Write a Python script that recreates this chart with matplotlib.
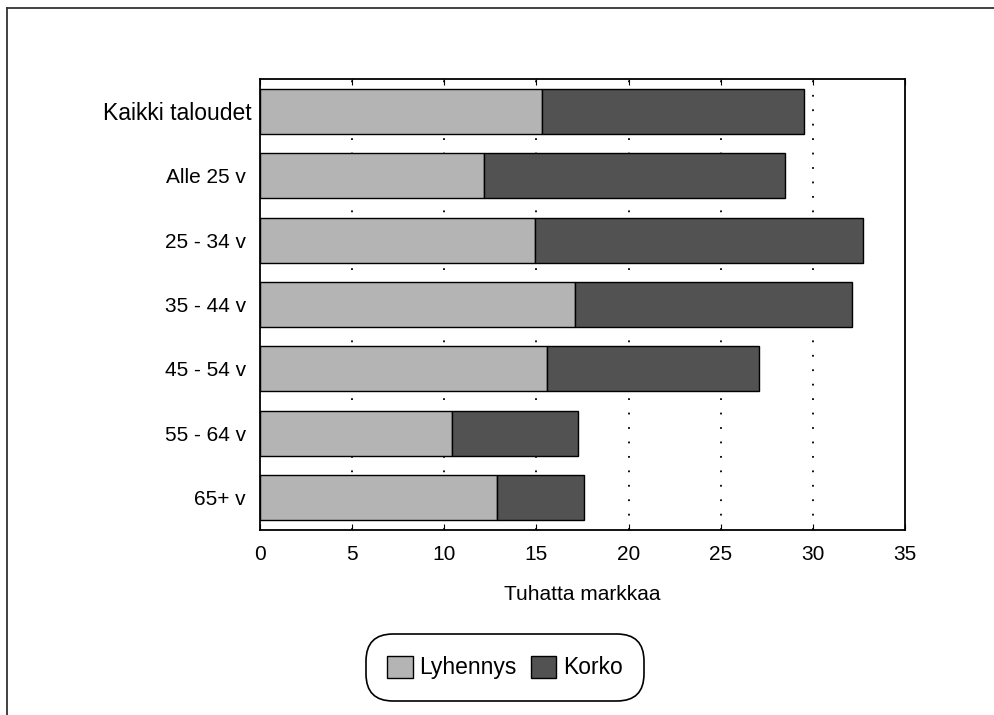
import matplotlib
matplotlib.use("Agg")
import matplotlib.pyplot as plt
import matplotlib.transforms as mtransforms
from matplotlib.lines import Line2D
import numpy as np

# Kotitalouksien asuntovelan lyhennykset ja korot (tuhatta markkaa)
ryhmat = ["Kaikki taloudet", "Alle 25 v", "25 - 34 v", "35 - 44 v",
          "45 - 54 v", "55 - 64 v", "65+ v"]
lyhennys = [15.3, 12.15, 14.9, 17.1, 15.6, 10.4, 12.85]
korko = [14.2, 16.35, 17.8, 15.0, 11.5, 6.85, 4.75]

xticks = [0, 5, 10, 15, 20, 25, 30, 35]

plt.rcParams['font.family'] = ['Liberation Sans', 'DejaVu Sans']

W, H = 994, 715
fig = plt.figure(figsize=(W / 100, H / 100), dpi=100)

# reunaviiva (vain vasen ja yla)
fig.add_artist(Line2D([7 / W, 7 / W], [0, 1 - 8 / H], color='#333333', lw=1.3))
fig.add_artist(Line2D([7 / W, 1], [1 - 8 / H, 1 - 8 / H], color='#333333', lw=1.3))

ax = fig.add_axes([260 / W, 1 - 530 / H, 645 / W, 451 / H])

y = np.arange(len(ryhmat))
ax.barh(y, lyhennys, height=0.7, color='#b4b4b4', edgecolor='black',
        linewidth=1, label='Lyhennys', zorder=3)
ax.barh(y, korko, left=lyhennys, height=0.7, color='#525252',
        edgecolor='black', linewidth=1, label='Korko', zorder=3)

ax.set_xlim(0, 35)
ax.set_ylim(len(ryhmat) - 0.5, -0.5)
ax.set_xticks(xticks)
ax.set_xticklabels([str(t) for t in xticks], fontsize=15)
for t in xticks[1:-1]:
    ax.axvline(t, color='black', lw=1.3, linestyle=(0, (1, 7)), zorder=1)

ax.set_yticks(y)
ax.set_yticklabels(ryhmat, fontsize=15)
ax.tick_params(axis='y', length=0, pad=10)
ax.tick_params(axis='x', direction='in', length=4, top=True, pad=11)
lbl = ax.get_yticklabels()[0]
lbl.set_fontsize(16.5)
lbl.set_transform(lbl.get_transform() +
                  mtransforms.ScaledTranslation(6 / 100, 0, fig.dpi_scale_trans))

for s in ax.spines.values():
    s.set_linewidth(1.3)

ax.set_xlabel('Tuhatta markkaa', fontsize=15, labelpad=15)

fig.legend(loc='center', bbox_to_anchor=(505 / W, 1 - 667.5 / H), ncol=2,
           fontsize=16.5, frameon=True, fancybox=True, edgecolor='black',
           handlelength=1.1, handleheight=1.1, handletextpad=0.3,
           columnspacing=0.6, borderpad=0.45, borderaxespad=0,
           framealpha=1)
leg = fig.legends[0]
leg.get_frame().set_linewidth(1.2)
leg.get_frame().set_boxstyle('round,pad=0.5,rounding_size=1.2')

fig.savefig('out.png', dpi=100)
